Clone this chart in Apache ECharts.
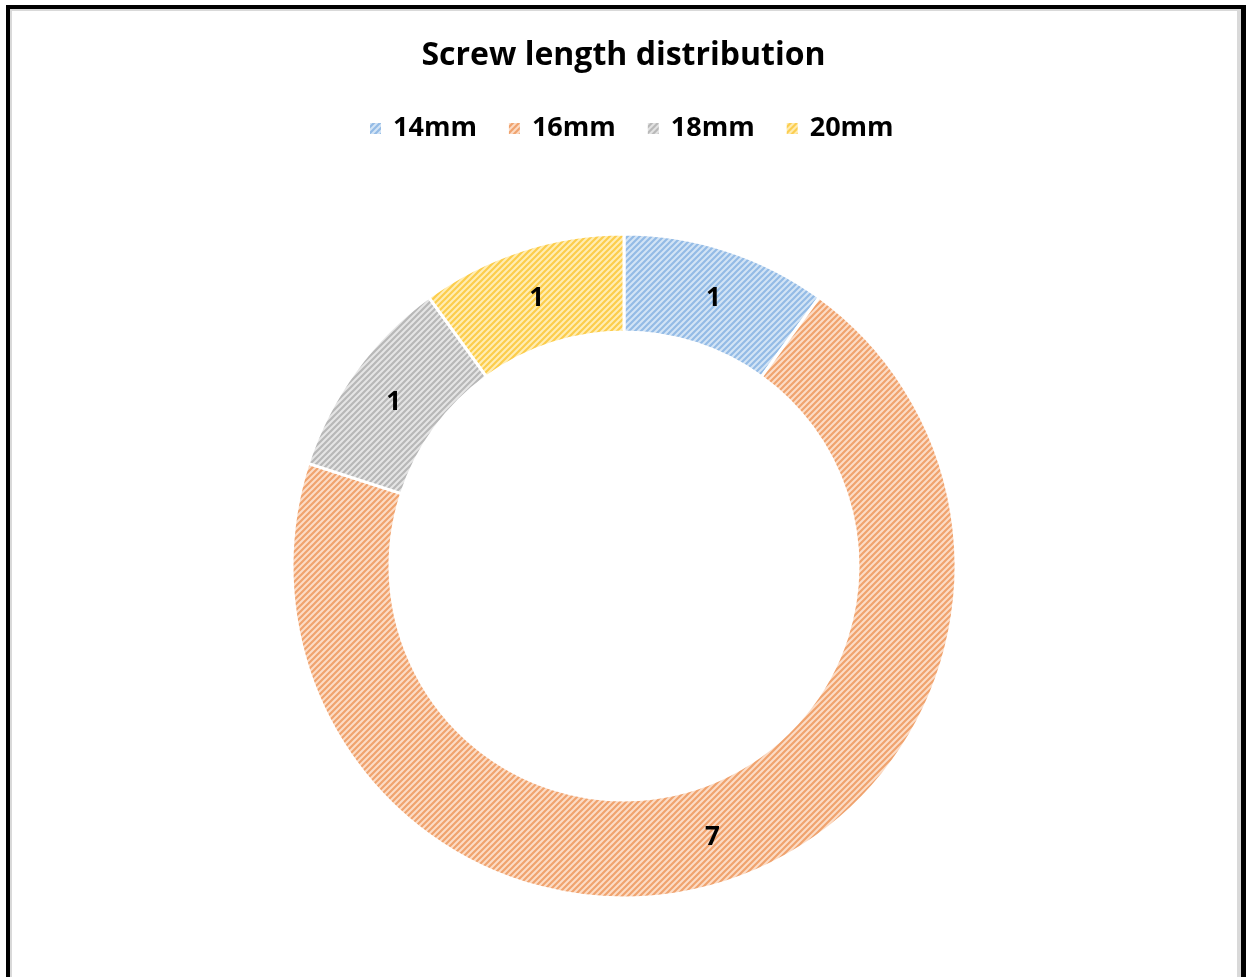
<!DOCTYPE html>
<html>
<head>
<meta charset="utf-8">
<script src="https://cdn.jsdelivr.net/npm/echarts@6/dist/echarts.min.js"></script>
<style>
  html, body { margin: 0; padding: 0; background: #fff; overflow: hidden; }
  #frame {
    position: absolute; left: 6px; top: 5px; width: 1231px; height: 1000px;
    border-left: 4px solid #000; border-top: 4px solid #000; border-right: 5px solid #000;
  }
  #inner {
    position: absolute; left: 0; top: 0; right: 0; bottom: 0;
    border-left: 2px solid #d9d9d9; border-top: 2px solid #d9d9d9; border-right: 4px solid #d9d9d9;
  }
  #chart { position: absolute; left: 0; top: 0; width: 1247px; height: 977px; }
</style>
</head>
<body>
<div id="frame"><div id="inner"></div></div>
<div id="chart"></div>
<script>
// Screw length counts
const categories = ['14mm', '16mm', '18mm', '20mm'];
const counts = [1, 7, 1, 1];
// Stripe colours per slice: [light, dark]
const stripeColors = [
  ['#d3e4f5', '#94bbe6'],
  ['#fcdcc6', '#f0a36e'],
  ['#e5e5e5', '#b8b8b8'],
  ['#ffedb4', '#fccd4c']
];

// Upward diagonal stripe tile
function stripeTile(light, dark) {
  const s = 6;
  const c = document.createElement('canvas');
  c.width = s; c.height = s;
  const g = c.getContext('2d');
  g.fillStyle = light;
  g.fillRect(0, 0, s, s);
  g.strokeStyle = dark;
  g.lineWidth = 2.2;
  g.beginPath();
  for (let k = -1; k <= 1; k++) {
    g.moveTo(k * s - 1, s + 1);
    g.lineTo(k * s + s + 1, -1);
  }
  g.stroke();
  return { image: c, repeat: 'repeat' };
}

const chart = echarts.init(document.getElementById('chart'), null, { renderer: 'canvas' });
chart.setOption({
  animation: false,
  title: {
    text: 'Screw length distribution',
    left: 'center', top: 35,
    textStyle: { fontFamily: 'Open Sans', fontWeight: 'bold', fontSize: 32, color: '#000' }
  },
  legend: {
    data: categories,
    top: 110, left: 363,
    icon: 'rect', itemWidth: 13, itemHeight: 13, itemGap: 30,
    textStyle: { fontFamily: 'Open Sans', fontWeight: 'bold', fontSize: 27, color: '#000', padding: [0, 0, 0, 6] }
  },
  series: [{
    type: 'pie',
    center: [624, 566],
    radius: [234, 332],
    startAngle: 90,
    clockwise: true,
    label: {
      show: true, position: 'inside', formatter: '{c}',
      fontFamily: 'Open Sans', fontWeight: 'bold', fontSize: 26, color: '#000'
    },
    labelLine: { show: false },
    emphasis: { disabled: true },
    itemStyle: { borderColor: '#fff', borderWidth: 3 },
    data: categories.map((name, i) => ({
      name, value: counts[i],
      itemStyle: { color: stripeTile(stripeColors[i][0], stripeColors[i][1]) },
      label: { offset: counts[i] === 7 ? [0, 0] : [1, 5] }
    }))
  }]
});
</script>
</body>
</html>
